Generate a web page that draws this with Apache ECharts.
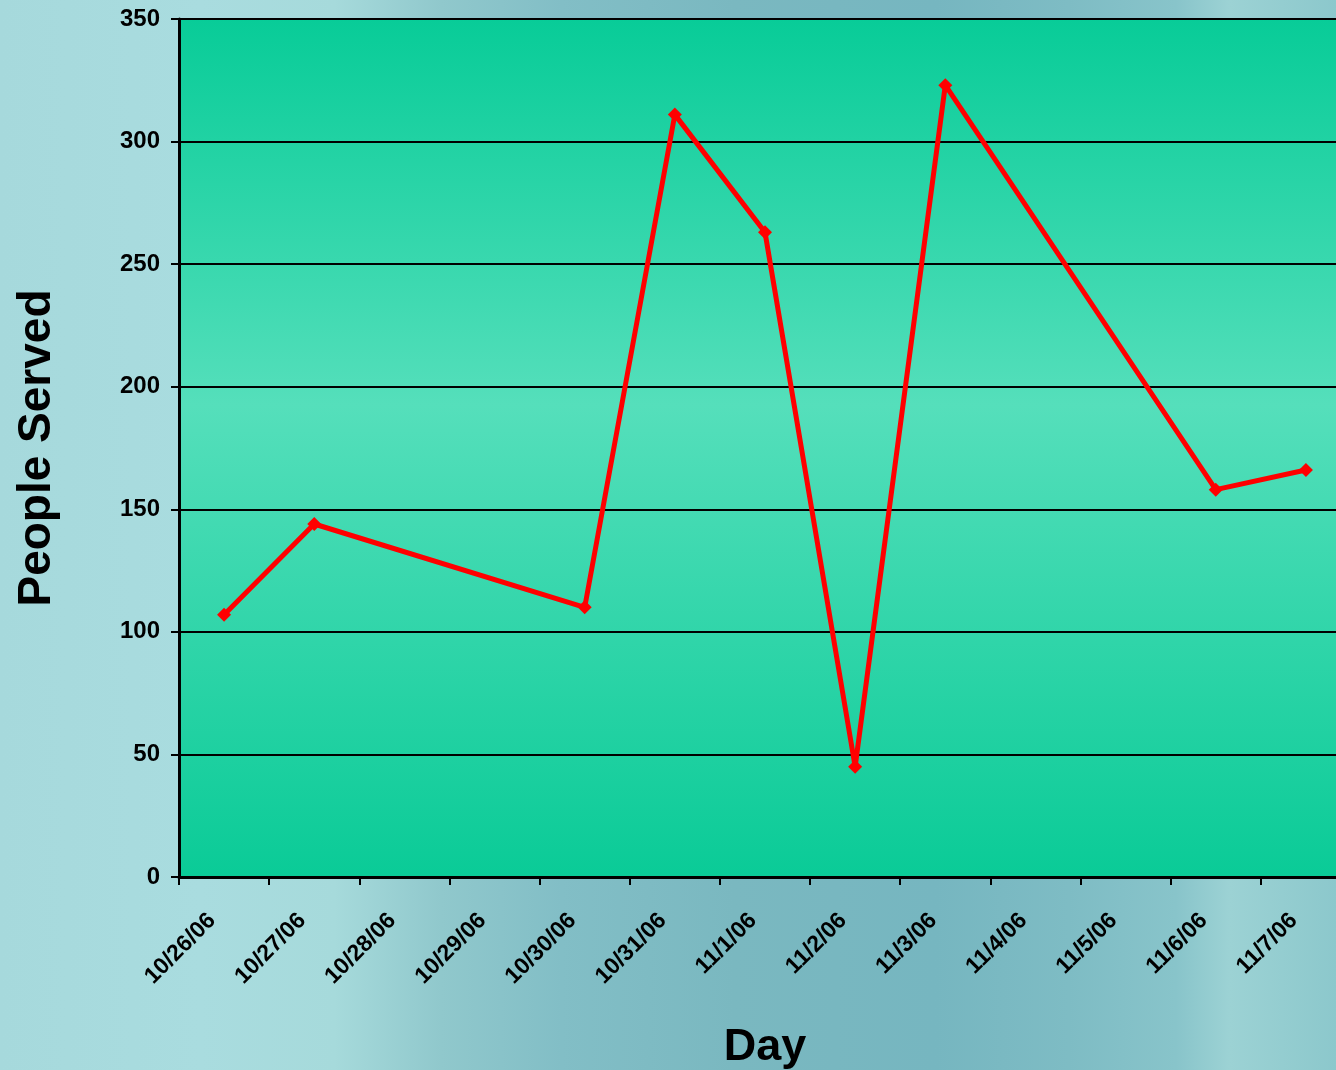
<!DOCTYPE html>
<html>
<head>
<meta charset="utf-8">
<script src="https://cdn.jsdelivr.net/npm/echarts@6/dist/echarts.min.js"></script>
<style>
html,body{margin:0;padding:0;}
#c{width:1336px;height:1070px;}
</style>
</head>
<body>
<div id="c"></div>
<script>
var categories = ['10/26/06','10/27/06','10/28/06','10/29/06','10/30/06','10/31/06','11/1/06','11/2/06','11/3/06','11/4/06','11/5/06','11/6/06','11/7/06'];
var peopleServed = [107, 144, null, null, 110, 311, 263, 45, 323, null, null, 158, 166];
var yTicks = [0, 50, 100, 150, 200, 250, 300, 350];

var chart = echarts.init(document.getElementById('c'));
chart.setOption({
  animation: false,
  backgroundColor: {
    type: 'linear', x: 0, y: 0, x2: 1, y2: 0,
    colorStops: [
      {offset: 0, color: '#a6d9dc'},
      {offset: 0.15, color: '#a9dcdf'},
      {offset: 0.25, color: '#a6dadb'},
      {offset: 0.33, color: '#90c8cc'},
      {offset: 0.42, color: '#82bec6'},
      {offset: 0.55, color: '#7ab8c0'},
      {offset: 0.7, color: '#76b6c0'},
      {offset: 0.8, color: '#7ebcc4'},
      {offset: 0.88, color: '#88c4ca'},
      {offset: 0.92, color: '#9cd2d4'},
      {offset: 1, color: '#8cc8cc'}
    ]
  },
  grid: {
    left: 179, top: 19, bottom: 193, right: -15,
    outerBoundsMode: 'none',
    containLabel: false,
    show: true,
    borderWidth: 0,
    backgroundColor: {
      type: 'linear', x: 0, y: 0, x2: 0, y2: 1,
      colorStops: [
        {offset: 0, color: '#08cc98'},
        {offset: 0.45, color: '#55dfbb'},
        {offset: 1, color: '#0acb97'}
      ]
    }
  },
  xAxis: {
    type: 'category',
    data: categories,
    boundaryGap: true,
    name: 'Day',
    nameLocation: 'middle',
    nameGap: 148,
    nameTextStyle: {fontFamily: 'Liberation Sans', fontWeight: 'bold', fontSize: 45, color: '#000'},
    axisLine: {show: true, lineStyle: {color: '#000', width: 3}},
    axisTick: {show: true, alignWithLabel: false, length: 8, lineStyle: {color: '#000', width: 2}},
    axisLabel: {
      rotate: 45, interval: 0, margin: 28,
      padding: [0, 17, 0, 0],
      fontFamily: 'Liberation Sans', fontWeight: 'bold', fontSize: 23, color: '#000'
    },
    splitLine: {show: false}
  },
  yAxis: {
    type: 'value',
    min: 0, max: 350, interval: 50,
    name: 'People Served',
    nameLocation: 'middle',
    nameGap: 119,
    nameRotate: 90,
    nameTextStyle: {fontFamily: 'Liberation Sans', fontWeight: 'bold', fontSize: 46, color: '#000'},
    axisLine: {show: true, lineStyle: {color: '#000', width: 3}},
    axisTick: {show: true, length: 8, lineStyle: {color: '#000', width: 2}},
    axisLabel: {
      margin: 19,
      fontFamily: 'Liberation Sans', fontWeight: 'bold', fontSize: 24, color: '#000',
      formatter: function (v) { return yTicks.indexOf(v) >= 0 ? String(v) : ''; }
    },
    splitLine: {show: true, lineStyle: {color: '#000', width: 2}}
  },
  series: [{
    type: 'line',
    data: peopleServed,
    connectNulls: true,
    symbol: 'diamond',
    symbolSize: 14,
    showAllSymbol: true,
    lineStyle: {color: '#ff0000', width: 5},
    itemStyle: {color: '#ff0000'}
  }]
});
</script>
</body>
</html>
